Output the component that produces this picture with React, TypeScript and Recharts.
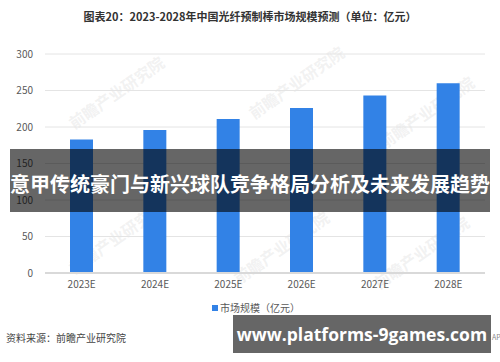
import React from 'react';
import { BarChart, Bar, XAxis, YAxis, CartesianGrid } from 'recharts';

const years = ['2023E', '2024E', '2025E', '2026E', '2027E', '2028E'];
const marketSize = [183, 196, 211, 226, 243, 260];
const yTicks = [0, 50, 100, 150, 200, 250, 300];

const TITLE = '图表20：2023-2028年中国光纤预制棒市场规模预测（单位：亿元）';
const LEGEND = '市场规模（亿元）';
const SOURCE = '资料来源：前瞻产业研究院';
const BANNER = '意甲传统豪门与新兴球队竞争格局分析及未来发展趋势';
const SITE = 'www.platforms-9games.com';

const FONT = '"Noto Sans CJK SC", "Noto Sans", sans-serif';
const BAR_COLOR = '#3282e6';
const GRID = '#e4e4e4';
const TICK = '#595959';

const data = years.map((y, i) => ({ year: y, value: marketSize[i] }));

// faint watermark stamps
const marks = [
  { x: 60, y: 80 }, { x: 240, y: 70 }, { x: 370, y: 100 },
  { x: 60, y: 225 }, { x: 225, y: 235 }, { x: 365, y: 240 },
];

export default function App() {
  return (
    <div style={{ position: 'absolute', left: 0, top: 0, width: 500, height: 362, background: '#fff', fontFamily: FONT, overflow: 'hidden' }}>
      <div style={{ position: 'absolute', top: 8, width: 500, textAlign: 'center', fontSize: 11, fontWeight: 700, color: '#333' }}>
        {TITLE}
      </div>

      {marks.map((m, i) => (
        <div key={i} style={{
          position: 'absolute', left: m.x, top: m.y, fontSize: 16, fontWeight: 700,
          color: 'rgba(210,210,210,0.3)', transform: 'rotate(-35deg)', whiteSpace: 'nowrap',
        }}>前瞻产业研究院</div>
      ))}

      <div style={{ position: 'absolute', left: 0, top: 0 }}>
        <BarChart width={500} height={362} data={data} margin={{ top: 54, right: 15, bottom: 59, left: 0 }}>
          <CartesianGrid vertical={false} stroke={GRID} />
          <XAxis dataKey="year" axisLine={{ stroke: '#d9d9d9', strokeWidth: 2 }} tickLine={false}
            tick={{ fontSize: 10, fill: TICK, fontFamily: FONT }} height={30} />
          <YAxis domain={[0, 300]} ticks={yTicks} axisLine={false} tickLine={false} width={45} tickMargin={6}
            tick={{ fontSize: 10, fill: TICK, fontFamily: FONT }} />
          <Bar dataKey="value" fill={BAR_COLOR} barSize={23} isAnimationActive={false} />
        </BarChart>
      </div>

      <div style={{ position: 'absolute', left: 212, top: 300, fontSize: 10, color: '#595959', display: 'flex', alignItems: 'center' }}>
        <span style={{ display: 'inline-block', width: 6, height: 6, background: BAR_COLOR, marginRight: 2 }} />
        {LEGEND}
      </div>

      <div style={{ position: 'absolute', left: 6, top: 330, fontSize: 10, color: '#444' }}>{SOURCE}</div>
      <div style={{ position: 'absolute', left: 492, top: 332, fontSize: 7, color: '#888' }}>APP</div>

      <div style={{
        position: 'absolute', left: 10, top: 149, width: 480, height: 63, background: 'rgba(0,0,0,0.6)',
        color: '#fff', fontSize: 20, fontWeight: 700, display: 'flex', alignItems: 'center', justifyContent: 'center',
        whiteSpace: 'nowrap', paddingTop: 6, boxSizing: 'border-box',
      }}>{BANNER}</div>

      <div style={{
        position: 'absolute', left: 233, top: 315, width: 258, height: 38, background: 'rgba(0,0,0,0.6)',
        color: '#fff', fontSize: 17.5, fontWeight: 700, display: 'flex', alignItems: 'center', justifyContent: 'center',
        whiteSpace: 'nowrap', fontFamily: '"Open Sans", "Noto Sans", sans-serif',
      }}>{SITE}</div>
    </div>
  );
}
